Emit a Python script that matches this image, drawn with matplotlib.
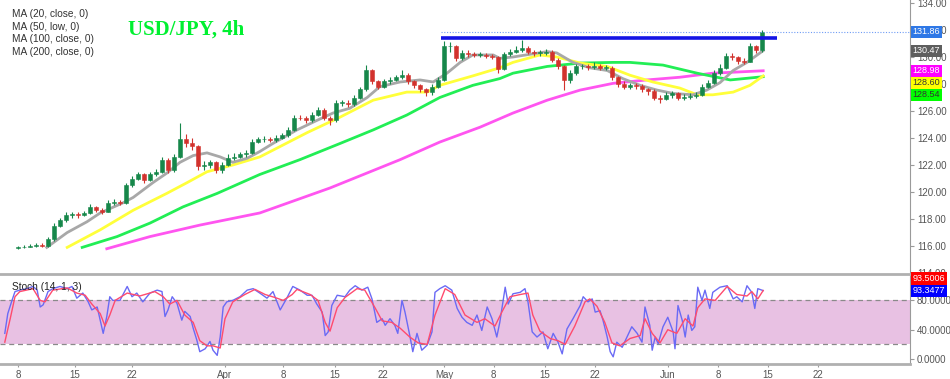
import matplotlib

matplotlib.use("Agg")

import matplotlib.pyplot as plt
import matplotlib.transforms as mtransforms

plt.rcParams["font.family"] = ["Liberation Sans", "DejaVu Sans"]

# ---- price data (4h candles, thinned to two per session) ----
first_open = 115.85
closes = [
    115.9, 115.95, 116.0, 116.05, 116.0, 116.5, 117.5, 117.9, 118.3, 118.35,
    118.3, 118.45, 118.9, 118.7, 118.55, 119.2, 119.25, 119.2, 120.5, 121.0,
    121.3, 120.9, 121.3, 121.5, 122.4, 121.6, 122.6, 123.9, 123.6, 123.4,
    121.9, 122.0, 122.2, 121.6, 122.0, 122.5, 122.6, 122.8, 122.9, 123.7,
    123.9, 123.95, 123.85, 124.0, 124.2, 124.6, 125.5, 125.45, 125.3, 125.7,
    126.1, 125.5, 125.3, 126.6, 126.6, 126.55, 127.0, 127.6, 129.0, 128.2,
    127.8, 128.2, 128.3, 128.5, 128.7, 128.2, 127.9, 127.6, 127.4, 127.8,
    128.3, 130.8, 130.8, 129.9, 130.3, 130.2, 130.15, 130.15, 130.1, 130.0,
    129.1, 130.2, 130.4, 130.55, 130.7, 130.4, 130.3, 130.3, 130.35, 129.8,
    129.3, 128.3, 128.8, 129.3, 129.3, 129.25, 129.3, 129.2, 129.2, 128.5,
    128.0, 127.8, 127.9, 127.85, 127.6, 127.45, 127.0, 126.9, 127.2, 127.3,
    127.0, 127.05, 127.1, 127.2, 127.8, 128.1, 128.8, 129.2, 130.1, 130.0,
    129.7, 129.65, 130.8, 130.5, 131.86,
]
highs = [
    116.0, 116.05, 116.15, 116.2, 116.2, 116.7, 117.7, 118.1, 118.5, 118.55,
    118.5, 118.6, 119.1, 119.0, 118.8, 119.4, 119.45, 119.4, 120.7, 121.2,
    121.5, 121.4, 121.5, 121.7, 122.6, 122.5, 122.8, 125.1, 124.3, 124.0,
    123.5, 122.3, 122.4, 122.3, 122.2, 122.8, 122.9, 123.0, 123.1, 123.9,
    124.1, 124.15, 124.1, 124.2, 124.4, 124.8, 125.7, 125.7, 125.6, 125.9,
    126.3, 126.2, 125.6, 126.8, 126.8, 126.8, 127.2, 127.8, 129.4, 129.1,
    128.3, 128.4, 128.5, 128.7, 129.0, 128.8, 128.3, 128.0, 127.7, 128.0,
    128.5, 131.2, 131.1, 130.9, 130.5, 130.5, 130.4, 130.35, 130.3, 130.25,
    130.1, 130.4, 130.6, 130.8, 131.25, 130.8, 130.5, 130.5, 130.6, 130.5,
    129.9, 129.4, 129.0, 129.5, 129.5, 129.5, 129.6, 129.5, 129.4, 129.3,
    128.6, 128.2, 128.1, 128.1, 128.0, 127.7, 127.6, 127.2, 127.4, 127.5,
    127.4, 127.25, 127.3, 127.4, 128.0, 128.3, 129.0, 129.5, 130.3, 130.3,
    130.1, 129.9, 131.0, 130.9, 132.0,
]
lows = [
    115.8, 115.85, 115.9, 115.9, 115.9, 115.95, 116.4, 117.4, 117.8, 118.1,
    118.1, 118.2, 118.35, 118.5, 118.35, 118.5, 119.05, 119.05, 119.1, 120.4,
    120.9, 120.7, 120.8, 121.2, 121.4, 121.4, 121.5, 122.5, 123.3, 123.1,
    121.6, 121.6, 121.8, 121.4, 121.4, 121.9, 122.4, 122.5, 122.6, 122.8,
    123.6, 123.7, 123.7, 123.7, 123.9, 124.1, 124.5, 125.3, 125.1, 125.2,
    125.6, 125.3, 125.0, 125.2, 126.4, 126.3, 126.4, 126.9, 127.5, 128.0,
    127.6, 127.7, 128.0, 128.2, 128.4, 128.0, 127.7, 127.4, 127.1, 127.2,
    127.7, 128.2, 130.4, 129.7, 129.8, 130.0, 130.0, 130.0, 129.9, 129.85,
    128.8, 129.0, 130.1, 130.3, 130.4, 130.2, 130.1, 130.1, 130.15, 129.6,
    129.1, 127.55, 128.1, 128.7, 129.1, 129.0, 129.1, 129.0, 129.0, 128.3,
    127.8, 127.6, 127.6, 127.6, 127.4, 127.2, 126.8, 126.6, 126.8, 127.0,
    126.8, 126.85, 126.9, 127.0, 127.1, 127.7, 128.0, 128.7, 129.1, 129.8,
    129.5, 129.5, 129.6, 130.3, 130.4,
]
resistance = 131.4
resistance_span = [70.5, 126.5]

# ---- moving averages (bar position, value) ----
ma20_x = [4.8, 8.2, 11.5, 13.7, 17.5, 19.2, 22.5, 24.8, 27, 29.2, 31.5, 33.7,
          35.8, 38.2, 40.3, 42.5, 46.5, 49.8, 52.5, 55.3, 58.2, 60.3, 63.7, 67,
          69.2, 71.5, 73.7, 75.8, 79.2, 80.3, 82.5, 88.2, 89.8, 92.5, 95.3,
          98.2, 100.8, 103.7, 106.5, 109.2, 112.5, 114.8, 117, 119.2, 121.5, 124.2]
ma20_y = [115.9, 117.0, 117.8, 118.45, 119.2, 119.6, 120.7, 121.4, 122.2, 122.7,
          122.9, 122.6, 122.2, 122.5, 123.0, 123.6, 124.6, 125.3, 125.85, 126.2,
          127.0, 127.8, 128.15, 128.3, 128.15, 128.8, 129.6, 130.15, 130.15,
          129.9, 130.0, 130.4, 130.3, 129.6, 129.2, 129.0, 128.4, 127.9, 127.55,
          127.3, 127.2, 127.55, 128.1, 129.0, 129.6, 130.47]
ma50_x = [8.2, 13.7, 19.2, 24.8, 28.2, 31.5, 35.8, 40.3, 42.5, 48.2, 53.7, 59.2,
          64.8, 68.2, 70.3, 75.8, 80.3, 82.5, 87, 89.8, 93.7, 98.2, 102, 105.8,
          110.3, 113.2, 115.8, 119.2, 122, 124.2]
ma50_y = [115.9, 117.2, 118.65, 119.9, 120.7, 121.5, 122.0, 122.6, 123.1, 124.4,
          125.55, 126.8, 127.4, 127.4, 127.9, 128.6, 129.2, 129.6, 130.15, 130.0,
          129.55, 129.3, 128.65, 128.15, 127.7, 127.2, 127.2, 127.4, 127.9, 128.60]
ma100_x = [10.7, 16.5, 22, 27.5, 33.2, 40.3, 47, 53.7, 59.2, 64.8, 70.3, 75.8,
           80.3, 82.5, 88.2, 93.7, 99.2, 102, 107.5, 113.2, 118.7, 124.2]
ma100_y = [115.9, 116.7, 117.7, 118.9, 119.9, 121.3, 122.4, 123.6, 124.6, 125.7,
           127.0, 127.9, 128.4, 128.8, 129.3, 129.55, 129.6, 129.6, 129.4, 128.8,
           128.3, 128.54]
ma200_x = [14.8, 22, 30.3, 40.3, 52, 63.7, 70.3, 77, 82.5, 88.2, 93.7, 99.2,
           104.8, 110.3, 115.8, 124.2]
ma200_y = [115.8, 116.7, 117.55, 118.45, 120.3, 122.4, 123.7, 124.8, 125.85,
           126.8, 127.55, 128.05, 128.3, 128.5, 128.8, 128.98]

# ---- stochastic (14, 1, 3) ----
stoch_k_x = [-2.2, -1.7, -1.0, -0.5, 0.3, 1.5, 2.5, 3.2, 3.7, 4.2, 5.0, 5.8, 7.0,
             8.2, 9.0, 9.8, 10.8, 11.7, 12.3, 13.2, 13.7, 14.2, 14.8, 15.3, 15.8,
             17.0, 18.2, 19.0, 19.8, 20.8, 22.0, 23.2, 24.0, 24.5, 25.0, 25.7,
             26.5, 27.3, 27.8, 28.7, 29.2, 29.8, 30.3, 31.2, 32.0, 32.5, 33.2,
             33.7, 34.2, 34.8, 35.8, 37.0, 38.2, 39.2, 40.3, 41.5, 42.5, 43.7,
             44.8, 45.8, 47.0, 48.2, 49.0, 49.8, 50.7, 51.2, 51.7, 52.3, 53.2,
             54.5, 55.3, 56.2, 57.3, 58.3, 59.0, 59.8, 60.7, 61.2, 62.0, 62.8,
             63.3, 64.0, 64.5, 65.3, 65.8, 66.5, 67.3, 68.2, 69.0, 69.5, 70.3,
             71.2, 72.3, 73.2, 74.0, 74.8, 75.7, 76.5, 77.3, 78.2, 79.0, 79.8,
             80.3, 81.2, 81.7, 82.5, 83.7, 84.5, 85.0, 85.7, 86.5, 87.5, 88.3,
             89.2, 90.0, 90.7, 91.5, 92.5, 93.7, 94.2, 95.0, 95.7, 96.2, 97.0,
             97.5, 98.2, 98.7, 99.2, 99.8, 100.7, 101.5, 102.3, 103.2, 104.0,
             104.5, 105.3, 105.7, 106.2, 106.7, 107.5, 108.3, 109.2, 109.5,
             110.0, 110.7, 111.2, 111.7, 112.3, 112.8, 113.3, 114.0, 114.5,
             115.3, 115.8, 117.0, 118.2, 119.2, 119.8, 120.7, 121.5, 122.3,
             122.8, 123.3, 124.2]
stoch_k = [35, 62, 80, 92, 94, 96, 99, 94, 71, 74, 92, 96, 99, 96, 99, 83, 90,
           78, 67, 71, 53, 35, 58, 85, 80, 80, 99, 85, 90, 78, 90, 94, 92, 58,
           67, 85, 76, 53, 65, 58, 42, 26, 10, 14, 24, 12, 5, 30, 71, 78, 80,
           85, 94, 96, 90, 83, 92, 67, 83, 99, 94, 87, 87, 75, 64, 32, 37, 73,
           87, 85, 94, 100, 94, 98, 82, 50, 55, 46, 55, 46, 35, 80, 64, 32, 10,
           35, 12, 19, 37, 91, 96, 100, 94, 69, 57, 50, 46, 60, 39, 71, 55, 30,
           50, 98, 75, 89, 91, 96, 78, 37, 30, 37, 14, 35, 23, 7, 41, 55, 73,
           85, 78, 82, 64, 66, 53, 30, 10, 3, 23, 16, 30, 44, 35, 23, 71, 46,
           12, 30, 21, 44, 57, 37, 14, 73, 53, 30, 60, 39, 44, 98, 80, 94, 69,
           91, 98, 100, 82, 85, 78, 100, 91, 69, 96, 93.3477]
stoch_d_x = [-2.2, -1.3, -0.5, 0.3, 2.5, 3.7, 4.5, 5.8, 8.2, 9.8, 11.2, 12.3,
             13.7, 14.5, 15.3, 16.2, 18.2, 20.3, 22.8, 24.2, 25.3, 26.5, 27.8,
             29.2, 30.3, 31.5, 32.5, 33.7, 34.5, 35.8, 37.8, 39.5, 41.2, 42.8,
             44.2, 45.7, 46.5, 48.7, 50.0, 51.2, 52.0, 53.2, 54.5, 56.5, 57.8,
             59.5, 60.7, 62.3, 63.7, 65.3, 66.7, 68.2, 69.5, 71.2, 72.8, 74.5,
             76.5, 77.8, 79.5, 80.7, 82.0, 83.7, 85.0, 85.8, 87.0, 88.7, 90.0,
             91.2, 92.8, 94.5, 95.3, 96.5, 97.8, 99.0, 100.3, 102.0, 103.7,
             104.5, 105.7, 107.0, 108.3, 109.8, 111.2, 112.5, 113.3, 114.5,
             116.2, 118.2, 119.8, 121.5, 122.3, 123.3, 124.2]
stoch_d = [23, 55, 85, 92, 96, 80, 78, 94, 97, 90, 87, 75, 62, 45, 60, 80, 90,
           86, 92, 85, 75, 80, 60, 50, 25, 18, 18, 15, 55, 78, 88, 95, 88, 84,
           80, 88, 95, 88, 80, 50, 38, 70, 84, 96, 94, 70, 52, 50, 42, 30, 22,
           20, 60, 96, 88, 60, 50, 55, 45, 65, 85, 88, 90, 60, 38, 28, 25, 20,
           45, 78, 82, 72, 50, 22, 18, 28, 32, 55, 35, 22, 40, 35, 55, 45, 70,
           82, 80, 99, 88, 86, 92, 82, 93.5006]

# ---- axes labels ----
date_ticks = [0, 9.5, 19, 34.5, 44.2, 52.8, 60.8, 71, 79.3, 87.8, 96.2, 108.3,
              116.7, 125, 133.3]
date_labels = ["8", "15", "22", "Apr", "8", "15", "22", "May", "8", "15", "22",
               "Jun", "8", "15", "22"]
price_ticks = [114, 116, 118, 120, 122, 124, 126, 128, 130, 132, 134]
stoch_ticks = [0, 40, 80]
legend_lines = ["MA (20, close, 0)", "MA (50, low, 0)", "MA (100, close, 0)",
                "MA (200, close, 0)"]

UP = "#16874a"
DOWN = "#d2322d"
AXIS = "#9a9a9a"
TXT = "#555555"


def right_labels(ax, items, step_px, upward=False):
    y0, y1 = ax.get_ylim()
    step = step_px * (y1 - y0) / ax.bbox.height
    trans = mtransforms.blended_transform_factory(ax.transAxes, ax.transData)
    order = sorted(items, key=lambda it: it[0], reverse=not upward)
    prev = None
    for value, text, bg, fg in order:
        y = value
        if prev is not None:
            y = max(y, prev + step) if upward else min(y, prev - step)
        prev = y
        ax.text(1.003, y, text, transform=trans, ha="left", va="center",
                fontsize=6.5, color=fg, clip_on=False, zorder=20,
                bbox=dict(boxstyle="square,pad=0.18", fc=bg, ec="none"))


fig = plt.figure(figsize=(9.5, 3.79), dpi=100)
ax = fig.add_axes([0, 105 / 379, 910 / 950, 274 / 379])
ax_st = fig.add_axes([0, 15 / 379, 910 / 950, 90 / 379], sharex=ax)

# ---- price panel ----
n = len(closes)
xs = list(range(n))
opens = [first_open] + closes[:-1]
colors = [UP if c >= o else DOWN for o, c in zip(opens, closes)]
ax.vlines(xs, lows, highs, colors=colors, linewidth=0.8, zorder=3)
bottoms = [min(o, c) for o, c in zip(opens, closes)]
heights = [max(abs(c - o), 0.05) for o, c in zip(opens, closes)]
ax.bar(xs, heights, bottom=bottoms, width=0.55, color=colors, edgecolor=colors,
       linewidth=0.4, zorder=4)

ax.plot(ma200_x, ma200_y, color="#ff55f0", linewidth=2.0, zorder=2)
ax.plot(ma100_x, ma100_y, color="#22ee55", linewidth=2.0, zorder=2)
ax.plot(ma50_x, ma50_y, color="#ffff3a", linewidth=2.0, zorder=2)
ax.plot(ma20_x, ma20_y, color="#a8a8a8", linewidth=2.0, zorder=2)

ax.hlines(resistance, resistance_span[0], resistance_span[1], color="#1414e6",
          linewidth=2.6, zorder=5)
ax.set_xlim(-3, 148.67)
ax.set_ylim(113.93, 134.22)
ax.hlines(closes[-1], resistance_span[0], 148.67, color="#6f9cf5",
          linewidth=0.8, linestyles=(0, (1, 1.5)), zorder=5)

ax.yaxis.tick_right()
ax.set_yticks(price_ticks)
ax.set_yticklabels([f"{v:.2f}" for v in price_ticks])
ax.tick_params(axis="y", labelsize=7, colors=AXIS, labelcolor=TXT, length=3,
               width=0.8, pad=2)
ax.tick_params(axis="x", bottom=False, labelbottom=False)
for side in ("top", "left", "bottom"):
    ax.spines[side].set_visible(False)
ax.spines["right"].set_color(AXIS)

right_labels(ax, [
    (closes[-1], f"{closes[-1]:.2f}", "#2f78e6", "white"),
    (ma20_y[-1], f"{ma20_y[-1]:.2f}", "#5e5e5e", "white"),
    (ma200_y[-1], f"{ma200_y[-1]:.2f}", "#ff00ff", "white"),
    (ma50_y[-1], f"{ma50_y[-1]:.2f}", "#ffff00", "#333333"),
    (ma100_y[-1], f"{ma100_y[-1]:.2f}", "#00ff00", "#333333"),
], step_px=12)

for i, line in enumerate(legend_lines):
    fig.text(12 / 950, 1 - (14 + 12.7 * i) / 379, line, fontsize=7.3,
             color="#333333", va="center", ha="left")
fig.text(128 / 950, 1 - 30 / 379, "USD/JPY, 4h", fontsize=15, color="#00f030",
         fontweight="bold", family=["Liberation Serif", "DejaVu Serif"],
         va="center", ha="left")

# ---- stochastic panel ----
ax_st.axhspan(20, 80, color="#e8c1e3", zorder=0, linewidth=0)
for level in (20, 80):
    ax_st.axhline(level, color="#8a8a8a", linewidth=0.9,
                  linestyle=(0, (4, 3)), zorder=1)
ax_st.plot(stoch_k_x, stoch_k, color="#6a6af5", linewidth=1.0, zorder=3)
ax_st.plot(stoch_d_x, stoch_d, color="#ff4b6e", linewidth=1.0, zorder=4)
ax_st.set_ylim(-6.8, 116)
ax_st.yaxis.tick_right()
ax_st.set_yticks(stoch_ticks)
ax_st.set_yticklabels([f"{v:.4f}" for v in stoch_ticks])
ax_st.tick_params(axis="y", labelsize=7, colors=AXIS, labelcolor=TXT, length=3,
                  width=0.8, pad=2)
ax_st.set_xticks(date_ticks)
ax_st.set_xticklabels(date_labels)
ax_st.tick_params(axis="x", labelsize=7, colors=AXIS, labelcolor=TXT, length=2,
                  width=0.8, pad=2)
ax_st.spines["left"].set_visible(False)
ax_st.spines["right"].set_color(AXIS)
ax_st.spines["top"].set_color("#b0b0b0")
ax_st.spines["top"].set_linewidth(2)
ax_st.spines["bottom"].set_color("#b0b0b0")
ax_st.spines["bottom"].set_linewidth(2)
fig.text(12 / 950, 1 - 287 / 379, "Stoch (14, 1, 3)", fontsize=7.3,
         color="#222222", va="center", ha="left", zorder=10)

right_labels(ax_st, [
    (stoch_k[-1], f"{stoch_k[-1]:.4f}", "#0000ff", "white"),
    (stoch_d[-1], f"{stoch_d[-1]:.4f}", "#ff0000", "white"),
], step_px=12, upward=True)

fig.savefig("out.png", dpi=100)
